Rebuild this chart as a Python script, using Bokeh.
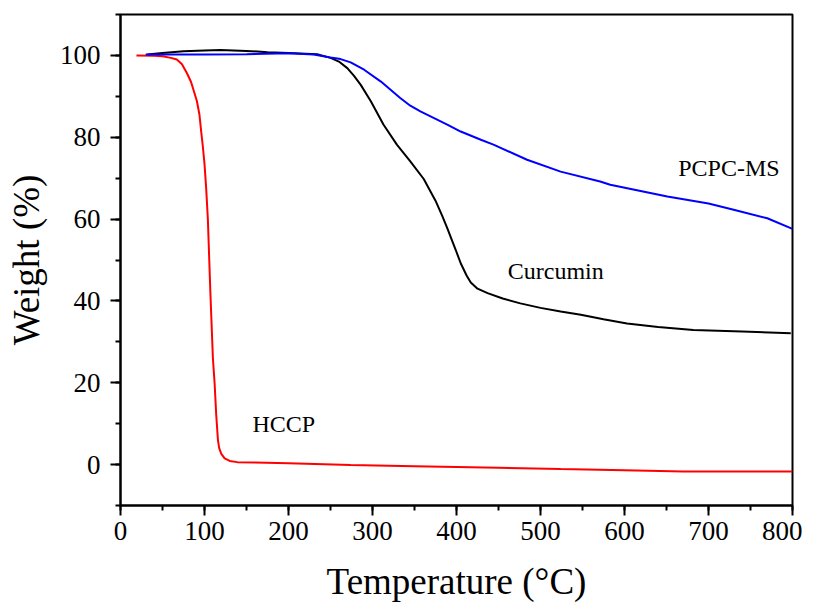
from bokeh.plotting import figure
from bokeh.models import SingleIntervalTicker, Range1d, ColumnDataSource
from bokeh.core.properties import value
from bokeh.embed import file_html
from bokeh.resources import INLINE

# ---- data ----
temp_hccp = [19, 40, 50, 60, 67, 73, 79, 84, 88, 91, 94, 96, 98, 100, 102, 104, 107, 110,
             112, 114, 116, 117.5, 120, 124, 130, 139, 160, 200, 274, 350, 450, 524, 600,
             670, 740, 800]
weight_hccp = [100.0, 99.9, 99.8, 99.4, 99.0, 97.9, 95.7, 93.5, 90.8, 88.8, 85.5, 81.5, 77.8,
               73.5, 67.5, 60.0, 42.0, 26.0, 20.0, 12.0, 6.0, 4.0, 2.6, 1.5, 0.9, 0.6, 0.5,
               0.3, -0.1, -0.4, -0.8, -1.1, -1.4, -1.7, -1.7, -1.7]

temp_cur = [32, 50, 75, 100, 119, 150, 175, 200, 234, 250, 260, 270, 278, 286, 298, 313, 329,
            345, 361, 375, 383, 389, 399, 405, 412, 417, 425, 437, 455, 476, 500, 524, 548,
            575, 603, 640, 682, 740, 798]
weight_cur = [100.2, 100.6, 101.0, 101.2, 101.3, 101.1, 100.8, 100.6, 100.3, 99.4, 98.5,
              96.9, 95.0, 92.8, 88.8, 83.1, 78.2, 74.1, 69.8, 64.5, 60.8, 57.8, 52.5, 49.2,
              46.2, 44.5, 43.0, 41.9, 40.6, 39.4, 38.3, 37.4, 36.6, 35.5, 34.5, 33.6, 32.9,
              32.5, 32.1]

temp_ms = [30, 60, 100, 150, 200, 230, 250, 262, 274, 290, 310, 333, 345, 357, 389, 405, 429,
           444, 484, 524, 571, 583, 651, 700, 730, 770, 800]
weight_ms = [100.2, 100.2, 100.2, 100.3, 100.5, 100.2, 99.5, 99.1, 98.3, 96.5, 93.6, 89.6,
             87.7, 86.3, 83.1, 81.4, 79.4, 78.2, 74.5, 71.6, 69.2, 68.4, 65.5, 63.8, 62.3,
             60.2, 57.6]

label_text = ["PCPC-MS", "Curcumin", "HCCP"]
label_x = [664, 461, 157]
label_y = [72.6, 47.4, 9.9]

x_title = "Temperature (°C)"
y_title = "Weight (%)"

FONT = "Liberation Serif"

p = figure(frame_width=672, frame_height=491,
           x_range=Range1d(0, 800), y_range=Range1d(-10, 110),
           output_backend="svg", toolbar_location=None,
           min_border_left=120, min_border_top=14, min_border_right=10,
           min_border_bottom=91, background_fill_color="white",
           border_fill_color="white")

p.line(temp_hccp, weight_hccp, line_color="#ff0000", line_width=2)
p.line(temp_cur, weight_cur, line_color="#000000", line_width=2)
p.line(temp_ms, weight_ms, line_color="#0000ff", line_width=2)

src = ColumnDataSource(dict(x=label_x, y=label_y, t=label_text))
p.text(x="x", y="y", text="t", source=src, text_font=value(FONT),
       text_font_size="24px", text_align="left", text_baseline="middle",
       text_color="black")

p.xaxis.ticker = SingleIntervalTicker(interval=100, num_minor_ticks=2)
p.yaxis.ticker = SingleIntervalTicker(interval=20, num_minor_ticks=2)
p.xaxis.axis_label = x_title
p.yaxis.axis_label = y_title

for ax in (p.xaxis[0], p.yaxis[0]):
    ax.axis_line_width = 2
    ax.axis_line_color = "black"
    ax.major_tick_line_width = 2
    ax.minor_tick_line_width = 2
    ax.major_tick_line_color = "black"
    ax.minor_tick_line_color = "black"
    ax.major_tick_out = 10
    ax.major_tick_in = 0
    ax.minor_tick_out = 5
    ax.minor_tick_in = 0
    ax.major_label_text_font = FONT
    ax.major_label_text_font_size = "27px"
    ax.major_label_text_color = "black"
    ax.axis_label_text_font = FONT
    ax.axis_label_text_font_size = "37px"
    ax.axis_label_text_font_style = "normal"
    ax.axis_label_text_color = "black"

p.xaxis.major_label_standoff = 6
p.yaxis.major_label_standoff = 10
p.xaxis.axis_label_standoff = 18
p.yaxis.axis_label_standoff = 10

p.grid.visible = False
p.outline_line_color = "black"
p.outline_line_width = 2
p.outline_line_alpha = 1

open("out.html", "w").write(file_html(p, INLINE))
